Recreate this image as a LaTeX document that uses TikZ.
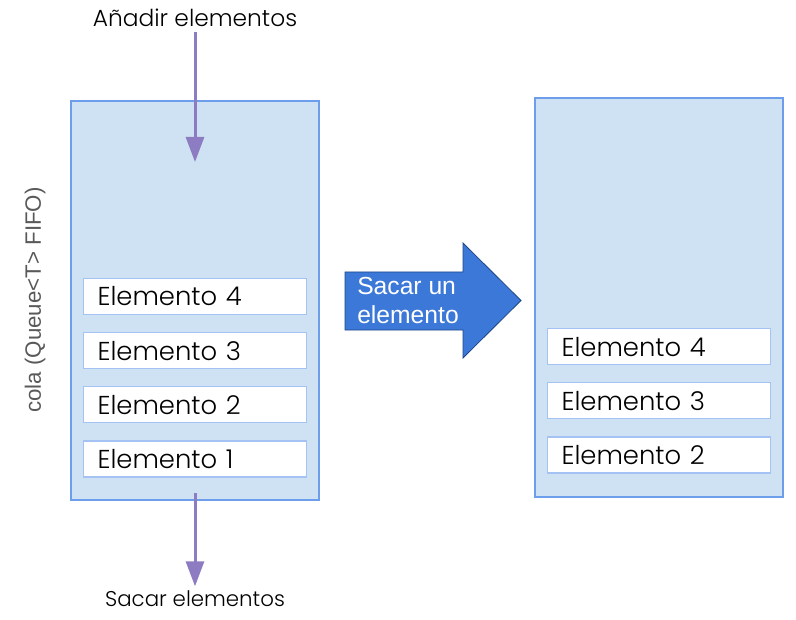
\documentclass[tikz,border=0pt]{standalone}
\usepackage{fontspec}
\setmainfont{Poppins}[UprightFont=* Light]
\newfontfamily\arialfont{Liberation Sans}
\usetikzlibrary{positioning,arrows.meta}

\definecolor{colafill}{HTML}{CFE2F3}
\definecolor{colaborde}{HTML}{6D9EEB}
\definecolor{elemborde}{HTML}{A4C2F4}
\definecolor{flechamorado}{HTML}{8E7CC3}
\definecolor{bloqueazul}{HTML}{3C78D8}
\definecolor{bloqueborde}{HTML}{1C4587}
\definecolor{grisrotulo}{HTML}{595959}

\tikzset{
  cola/.style={draw=colaborde, fill=colafill, line width=0.9pt,
    minimum width=186pt, minimum height=299.25pt, inner sep=0pt},
  elem/.style={draw=elemborde, fill=white, line width=0.9pt,
    minimum width=167.25pt, minimum height=27pt, inner xsep=10.5pt,
    text width=146.25pt, align=left, font=\fontsize{19.4}{23}\selectfont},
  flecha/.style={draw=flechamorado, line width=2.25pt,
    -{Triangle[width=13.5pt,length=18.75pt]}},
}

\begin{document}
\begin{tikzpicture}[x=0.75pt,y=-0.75pt]
    \useasboundingbox (0,0) rectangle (796,620);

    % Colas
    \node[cola] (colaA) at (195,300.5) {};
    \node[cola] (colaB) at (659,297.5) {};

    % Elementos, cola de la izquierda
    \node[elem, above=17.25pt of colaA.south] (a1) {Elemento 1};
    \node[elem, above=12.75pt of a1] (a2) {Elemento 2};
    \node[elem, above=12.75pt of a2] (a3) {Elemento 3};
    \node[elem, above=12.75pt of a3] (a4) {Elemento 4};

    % Elementos, cola de la derecha
    \node[elem, above=18pt of colaB.south] (b2) {Elemento 2};
    \node[elem, above=12.75pt of b2] (b3) {Elemento 3};
    \node[elem, above=12.75pt of b3] (b4) {Elemento 4};

    % Rotulos
    \node[font=\fontsize{17.5}{20}\selectfont] (anadir) at (195,18) {Añadir elementos};
    \node[font=\fontsize{16}{19}\selectfont] (sacar) at (195,599) {Sacar elementos};
    \node[rotate=90, text=grisrotulo, font=\arialfont\fontsize{16.7}{19}\selectfont]
        (colaRot) at (35,300) {cola (Queue<T> FIFO)};

    % Flechas moradas
    \coordinate (entra) at (195,162);
    \coordinate (sale) at (195,493);
    \draw[flecha] (anadir.south) -- (entra);
    \draw[flecha] (sale) -- (sacar.north);

    % Flecha de bloque
    \draw[fill=bloqueazul, draw=bloqueborde, line width=0.6pt]
        (345,272) -- (463,272) -- (463,243) -- (521,300.5)
        -- (463,358) -- (463,330) -- (345,330) -- cycle;
    \node[anchor=west, align=left, text=white, inner sep=0pt,
        font=\arialfont\fontsize{18.5}{21.75}\selectfont]
        (sacarUno) at (357,301) {Sacar un\\elemento};
\end{tikzpicture}
\end{document}
